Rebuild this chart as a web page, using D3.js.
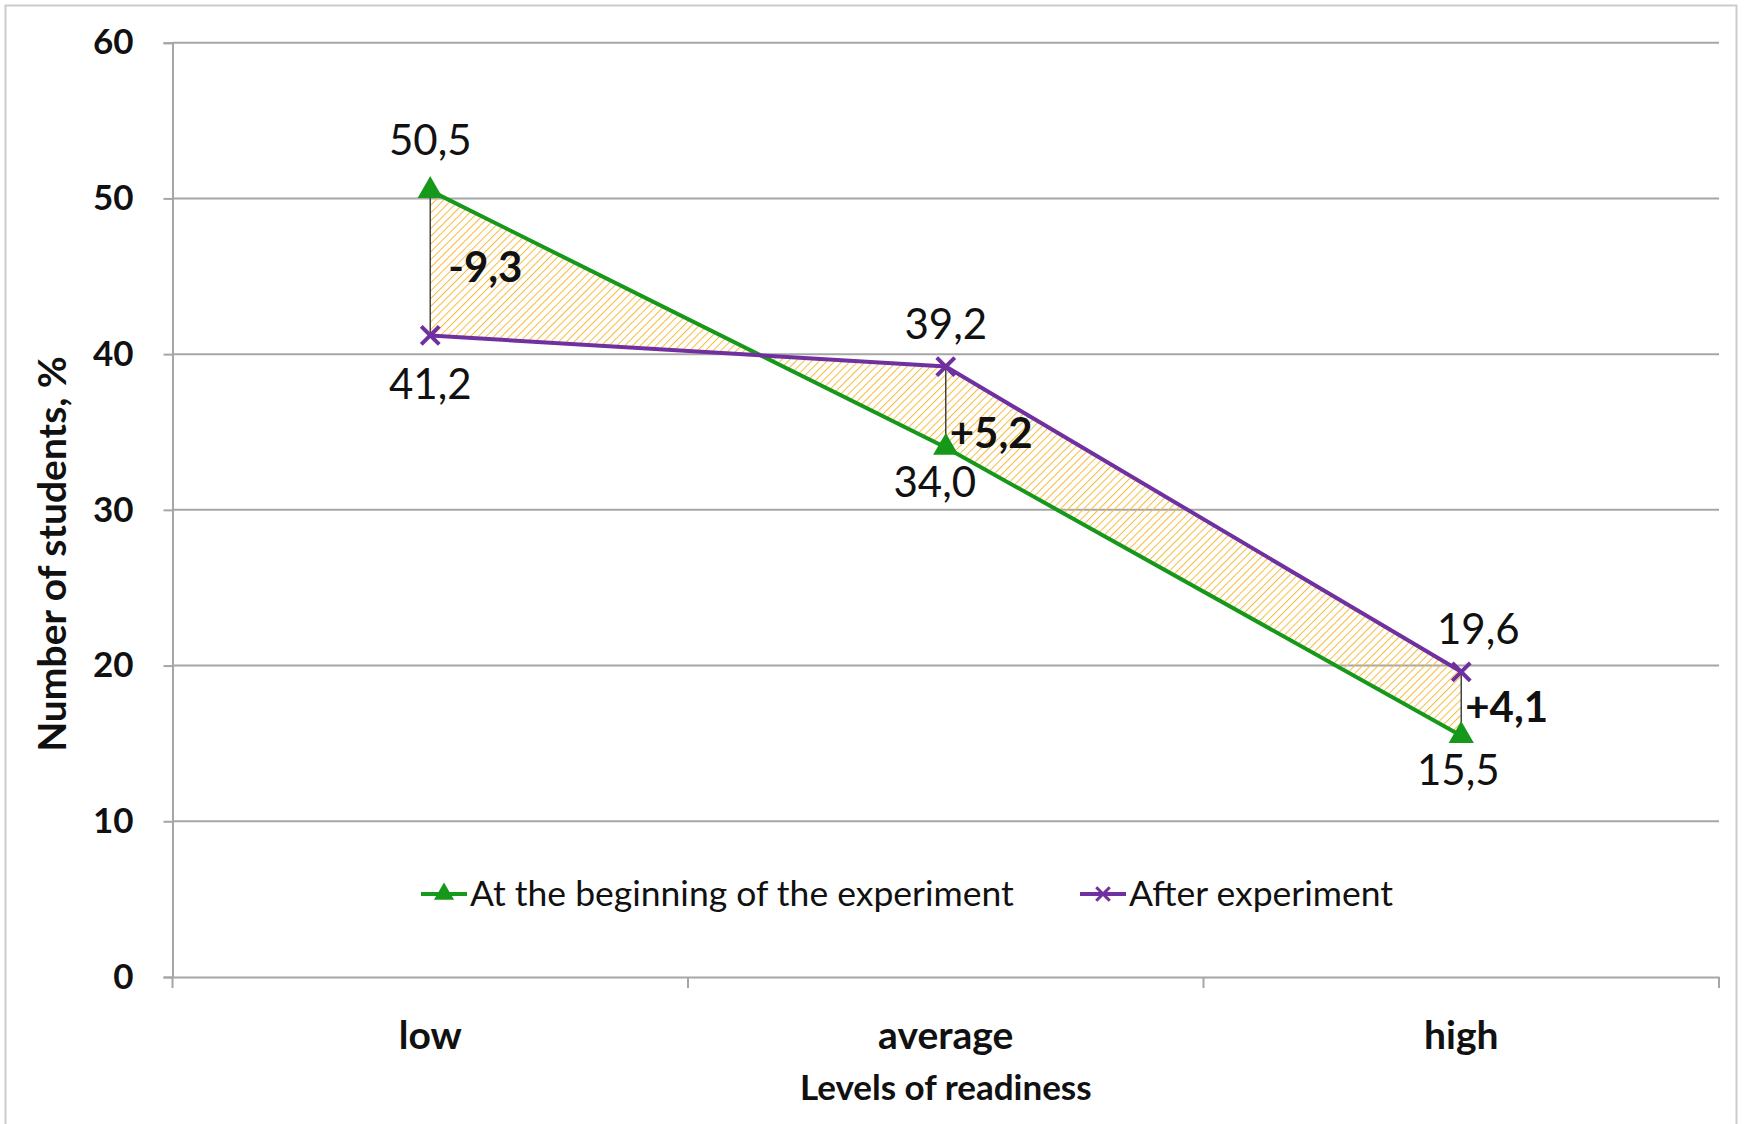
<!DOCTYPE html>
<html>
<head>
<meta charset="utf-8">
<script src="https://cdn.jsdelivr.net/npm/d3@7"></script>
<style>
  body { margin: 0; background: #fff; }
  svg text { font-family: Lato, "Noto Sans", sans-serif; fill: #111; }
</style>
</head>
<body>
<div id="chart"></div>
<script>
// data
const levels = ["low", "average", "high"];
const beginValues = [50.5, 34.0, 15.5];
const afterValues = [41.2, 39.2, 19.6];
const diffLabels = ["-9,3", "+5,2", "+4,1"];
const yTicks = [0, 10, 20, 30, 40, 50, 60];
const seriesNames = ["At the beginning of the experiment", "After experiment"];

const W = 1745, H = 1124;
const margin = { top: 42.7, right: 26, bottom: 147, left: 172.5 };
const width = W - margin.left - margin.right,
  height = H - margin.top - margin.bottom;

const green = "#16981a", purple = "#7030a0", grid = "#a6a6a6";

const svg = d3.select("#chart").append("svg")
  .attr("width", W).attr("height", H);

// outer frame
svg.append("rect")
  .attr("x", 5.5).attr("y", 5.5)
  .attr("width", 1731).attr("height", 1130)
  .attr("fill", "none").attr("stroke", "#cccccc").attr("stroke-width", 2);

// hatch pattern for the gap between the two lines
const defs = svg.append("defs");
defs.append("pattern")
  .attr("id", "hatch")
  .attr("patternUnits", "userSpaceOnUse")
  .attr("width", 5.5).attr("height", 5.5)
  .attr("patternTransform", "rotate(45)")
  .append("line")
  .attr("x1", 0).attr("y1", 0).attr("x2", 0).attr("y2", 5.5)
  .attr("stroke", "#f6bb3c").attr("stroke-width", 2);

const g = svg.append("g")
  .attr("transform", "translate(" + margin.left + "," + margin.top + ")");

var x = d3.scaleBand().domain(levels).range([0, width]);
var y = d3.scaleLinear().domain([0, 60]).range([height, 0]);
const cx = (d) => x(d) + x.bandwidth() / 2;
const fmt = (v) => d3.format(".1f")(v).replace(".", ",");

// gridlines
g.append("g")
  .selectAll("line")
  .data(yTicks.filter((t) => t > 0))
  .enter().append("line")
  .attr("x1", 0).attr("x2", width)
  .attr("y1", (d) => y(d)).attr("y2", (d) => y(d))
  .attr("stroke", grid).attr("stroke-width", 2);

// y axis
const yAxis = g.append("g")
  .call(d3.axisLeft(y).tickValues(yTicks).tickSize(9).tickPadding(30).tickFormat(d3.format("d")));
yAxis.select(".domain").attr("stroke", grid).attr("stroke-width", 2);
yAxis.selectAll(".tick line").attr("stroke", grid).attr("stroke-width", 2);
yAxis.selectAll("text")
  .style("font-size", "35px").style("font-weight", "bold").attr("fill", "#111");

// x axis
const xAxis = g.append("g")
  .attr("transform", "translate(0," + height + ")")
  .call(d3.axisBottom(x).tickSize(0).tickPadding(44));
xAxis.select(".domain").attr("stroke", grid).attr("stroke-width", 2);
xAxis.selectAll("text")
  .style("font-size", "39px").style("font-weight", "bold").attr("fill", "#111");
// band boundary ticks
xAxis.append("g").selectAll("line")
  .data(d3.range(levels.length + 1))
  .enter().append("line")
  .attr("x1", (i) => i * x.bandwidth()).attr("x2", (i) => i * x.bandwidth())
  .attr("y1", 0).attr("y2", 11)
  .attr("stroke", grid).attr("stroke-width", 2);

// hatched area between series
const rows = levels.map((l, i) => ({ level: l, a: beginValues[i], b: afterValues[i], diff: diffLabels[i] }));
g.append("path")
  .datum(rows)
  .attr("d", d3.area()
    .x((d) => cx(d.level))
    .y0((d) => y(d.a))
    .y1((d) => y(d.b)))
  .attr("fill", "url(#hatch)");

// drop lines
g.append("g").selectAll("line")
  .data(rows)
  .enter().append("line")
  .attr("x1", (d) => cx(d.level)).attr("x2", (d) => cx(d.level))
  .attr("y1", (d) => y(d.a)).attr("y2", (d) => y(d.b))
  .attr("stroke", "#444").attr("stroke-width", 1.5);

// lines
const line = (key) => d3.line().x((d) => cx(d.level)).y((d) => y(d[key]));
g.append("path").datum(rows).attr("d", line("a"))
  .attr("fill", "none").attr("stroke", green).attr("stroke-width", 4);
g.append("path").datum(rows).attr("d", line("b"))
  .attr("fill", "none").attr("stroke", purple).attr("stroke-width", 4);

// markers
const tri = d3.symbol().type(d3.symbolTriangle).size(190);
function drawCross(sel) {
  sel.append("path")
    .attr("d", "M-9,-9L9,9M-9,9L9,-9")
    .attr("stroke", purple).attr("stroke-width", 4).attr("fill", "none");
}
g.append("g").selectAll("path")
  .data(rows).enter().append("path")
  .attr("d", tri)
  .attr("transform", (d) => "translate(" + cx(d.level) + "," + y(d.a) + ")")
  .attr("fill", green).attr("stroke", green).attr("stroke-width", 2.5);
g.append("g").selectAll("g")
  .data(rows).enter().append("g")
  .attr("transform", (d) => "translate(" + cx(d.level) + "," + y(d.b) + ")")
  .call(drawCross);

// value labels
const labels = g.append("g").style("font-size", "42px");
labels.selectAll(".lblA")
  .data(rows).enter().append("text")
  .attr("x", (d) => cx(d.level))
  .attr("y", (d) => y(d.a))
  .attr("dy", (d) => (d.a > d.b ? -36 : 49))
  .attr("dx", (d, i) => (i === 1 ? -11 : i === 2 ? -3 : 0))
  .attr("text-anchor", "middle")
  .text((d) => fmt(d.a));
labels.selectAll(".lblB")
  .data(rows).enter().append("text")
  .attr("x", (d) => cx(d.level))
  .attr("y", (d) => y(d.b))
  .attr("dy", (d) => (d.b > d.a ? -28 : 64))
  .attr("dx", (d, i) => (i === 2 ? 17 : 0))
  .attr("text-anchor", "middle")
  .text((d) => fmt(d.b));

// difference labels
g.append("g").selectAll("text")
  .data(rows).enter().append("text")
  .attr("x", (d) => cx(d.level))
  .attr("y", (d, i) => y((d.a + d.b) / 2) + (i === 1 ? 26 : 4))
  .attr("dx", (d, i) => (i === 0 ? 18 : 4))
  .attr("dy", "0.35em")
  .style("font-size", "42px").style("font-weight", "bold")
  .text((d) => d.diff);

// legend
const legend = g.append("g").attr("transform", "translate(0," + (894 - margin.top) + ")");
const legendX = [421 - margin.left, 1080 - margin.left];
seriesNames.forEach((name, i) => {
  const lg = legend.append("g").attr("transform", "translate(" + legendX[i] + ",0)");
  lg.append("line").attr("x1", 0).attr("x2", 46).attr("y1", 0).attr("y2", 0)
    .attr("stroke", i === 0 ? green : purple).attr("stroke-width", 4);
  if (i === 0) {
    lg.append("path").attr("d", d3.symbol().type(d3.symbolTriangle).size(120))
      .attr("transform", "translate(23,0)")
      .attr("fill", green).attr("stroke", green).attr("stroke-width", 2);
  } else {
    lg.append("g").attr("transform", "translate(23,0) scale(0.75)").call(drawCross);
  }
  lg.append("text").attr("x", 49).attr("dy", "0.35em")
    .style("font-size", "35.5px").text(name);
});

// axis titles
svg.append("text")
  .attr("x", margin.left + width / 2).attr("y", 1088)
  .attr("dy", "0.35em").attr("text-anchor", "middle")
  .style("font-size", "35px").style("font-weight", "bold")
  .text("Levels of readiness");
svg.append("text")
  .attr("transform", "translate(52,554) rotate(-90)")
  .attr("dy", "0.35em").attr("text-anchor", "middle")
  .style("font-size", "39px").style("font-weight", "bold")
  .text("Number of students, %");
</script>
</body>
</html>
